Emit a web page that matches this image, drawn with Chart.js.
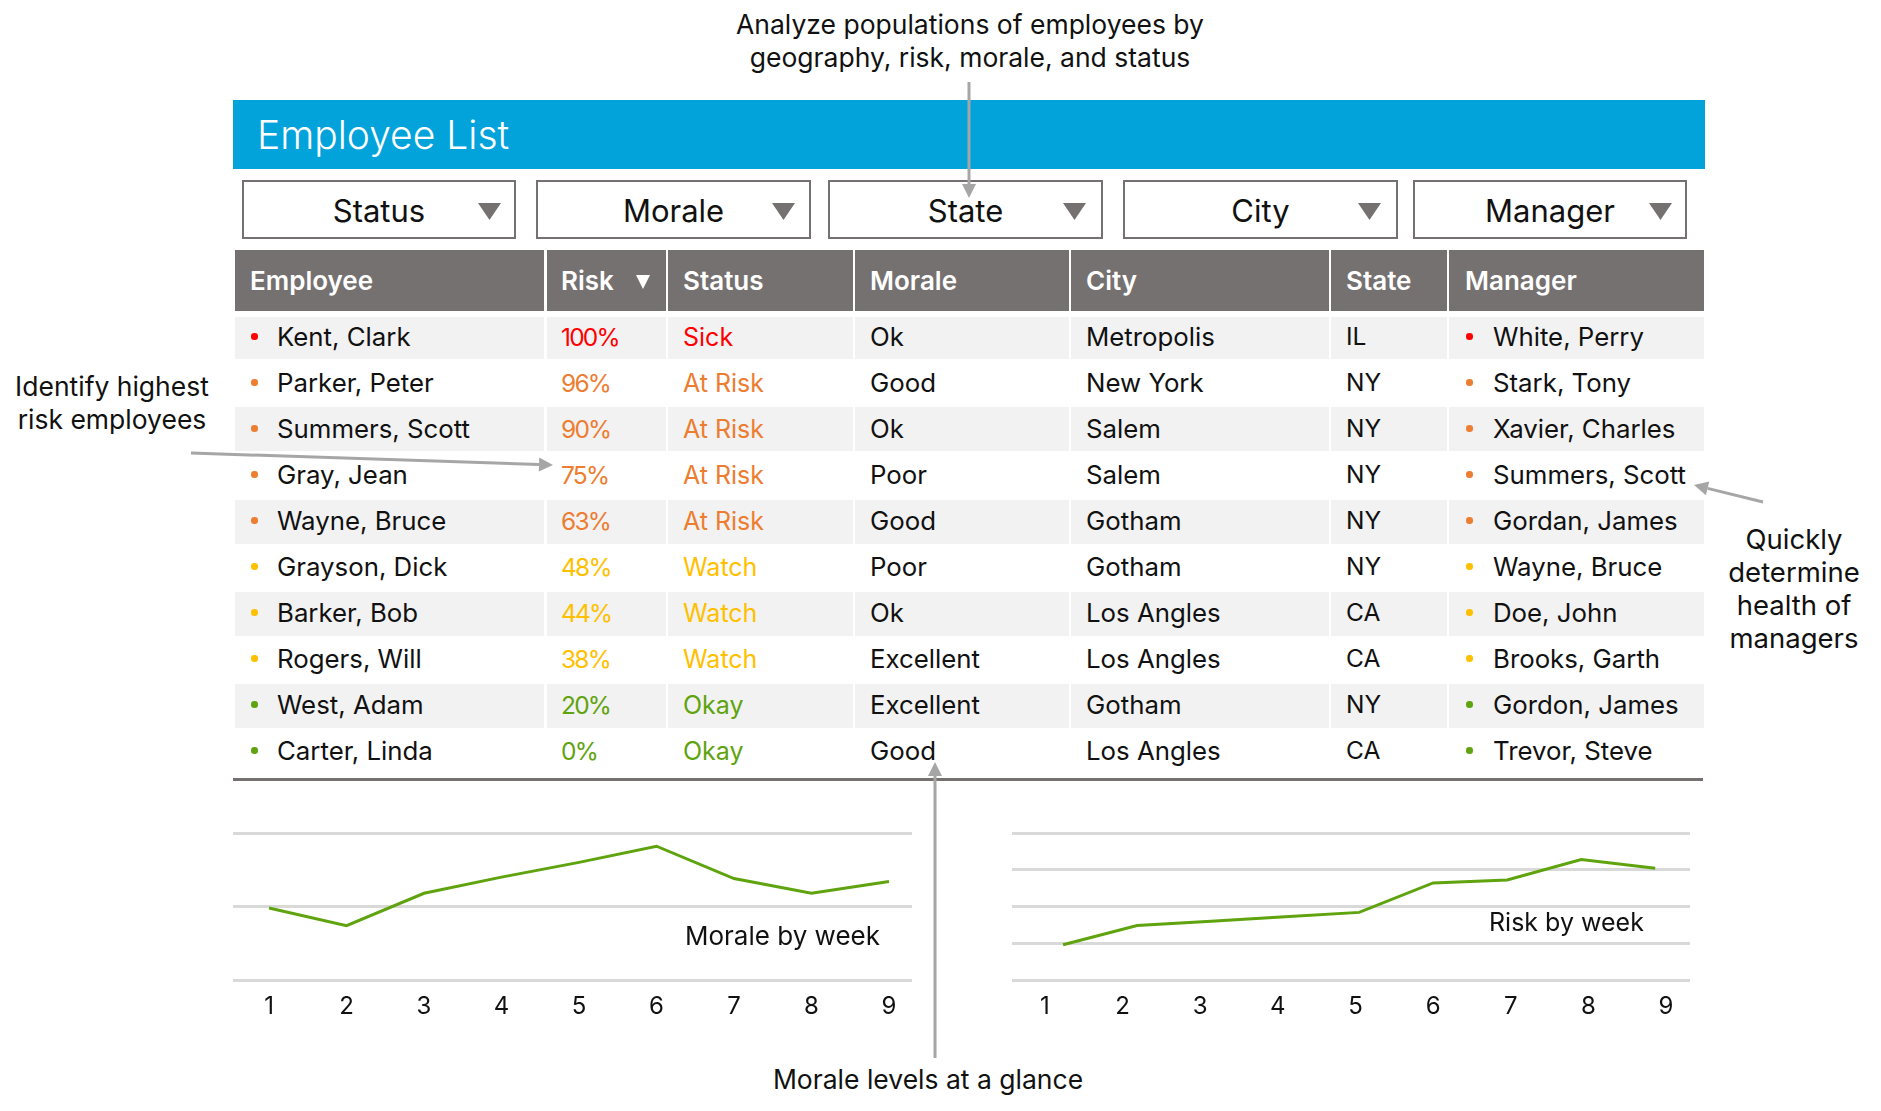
<!DOCTYPE html>
<html>
<head>
<meta charset="utf-8">
<script src="https://cdn.jsdelivr.net/npm/chart.js"></script>
<style>
  body { margin: 0; background: #fff; font-family: Inter, sans-serif; color: #111; overflow: hidden; }
  #page { position: relative; width: 1881px; height: 1111px; overflow: hidden; }
  .box { position: absolute; box-sizing: border-box; }
  .txt { position: absolute; white-space: nowrap; transform: translateY(-50%); font-size: 25.8px; }
  .ctr { transform: translate(-50%, -50%); font-size: 26.5px; }
  canvas { position: absolute; }
  svg { position: absolute; left: 0; top: 0; }
</style>
</head>
<body>
<div id="page">
  <canvas id="moraleChart" width="679" height="210" style="left:233px;top:823px"></canvas>
  <canvas id="riskChart" width="678" height="210" style="left:1012px;top:823px"></canvas>
</div>
<script>
const filters = ["Status", "Morale", "State", "City", "Manager"];
const columns = ["Employee", "Risk", "Status", "Morale", "City", "State", "Manager"];
const employees = ["Kent, Clark", "Parker, Peter", "Summers, Scott", "Gray, Jean", "Wayne, Bruce", "Grayson, Dick", "Barker, Bob", "Rogers, Will", "West, Adam", "Carter, Linda"];
const risks = ["100%", "96%", "90%", "75%", "63%", "48%", "44%", "38%", "20%", "0%"];
const statuses = ["Sick", "At Risk", "At Risk", "At Risk", "At Risk", "Watch", "Watch", "Watch", "Okay", "Okay"];
const morales = ["Ok", "Good", "Ok", "Poor", "Good", "Poor", "Ok", "Excellent", "Excellent", "Good"];
const cities = ["Metropolis", "New York", "Salem", "Salem", "Gotham", "Gotham", "Los Angles", "Los Angles", "Gotham", "Los Angles"];
const states = ["IL", "NY", "NY", "NY", "NY", "NY", "CA", "CA", "NY", "CA"];
const managers = ["White, Perry", "Stark, Tony", "Xavier, Charles", "Summers, Scott", "Gordan, James", "Wayne, Bruce", "Doe, John", "Brooks, Garth", "Gordon, James", "Trevor, Steve"];

const weeks = [1, 2, 3, 4, 5, 6, 7, 8, 9];
const moraleByWeek = [49, 37, 59, 70, 80, 91, 69, 59, 67];
const riskByWeek = [24, 37, 40, 43, 46, 66, 68, 82, 76];

const statusColors = { "Sick": "#ff0000", "At Risk": "#ed7d31", "Watch": "#ffc000", "Okay": "#5fa30e" };
const GREY = "#767171";
const page = document.getElementById("page");

function box(x, y, w, h, style) {
  const el = document.createElement("div");
  el.className = "box";
  el.style.cssText = `left:${x}px;top:${y}px;width:${w}px;height:${h}px;${style}`;
  page.appendChild(el);
  return el;
}

function text(x, y, str, style, centered) {
  const el = document.createElement("div");
  el.className = centered ? "txt ctr" : "txt";
  el.style.cssText = `left:${x}px;top:${y}px;${style || ""}`;
  el.textContent = str;
  page.appendChild(el);
}

function triangle(x, y, w, h, color) {
  box(x, y, w, h, `background:${color};clip-path:polygon(0 0,100% 0,50% 100%)`);
}

// title band
box(233, 100, 1472, 69, "background:#02a3db");
text(257, 134, "Employee List", "color:#fff;font-size:39px;font-weight:300");

// filter boxes
const filterBoxes = [[242, 274], [536, 275], [828, 275], [1123, 275], [1413, 274]];
const arrowNudge = [0, -1, -2, -2, 0];
filters.forEach((name, i) => {
  const [x, w] = filterBoxes[i];
  box(x, 180, w, 59, `border:2px solid ${GREY}`);
  text(x + w / 2, 210, name, "font-size:31px", true);
  triangle(x + w - 38 + arrowNudge[i], 203, 23, 17, GREY);
});

// table
const colEdges = [[235, 544], [547, 666], [668, 853], [855, 1069], [1071, 1329], [1331, 1447], [1449, 1704]];
const textX = [277, 561, 683, 870, 1086, 1346, 1493];
const headX = [250, 561, 683, 870, 1086, 1346, 1465];
colEdges.forEach(([a, b], c) => {
  box(a, 250, b - a, 61, `background:${GREY}`);
  text(headX[c], 280, columns[c], "color:#fff;font-weight:600;font-size:26px");
  [317, 407, 500, 592, 684].forEach((top, i) => {
    box(a, top, b - a, i == 0 ? 42 : 44, "background:#f2f2f2");
  });
});
triangle(636, 275, 14, 14, "#fff");

const rowColumns = [employees, risks, statuses, morales, cities, states, managers];
const cellStyles = ["", "font-size:24.5px;letter-spacing:-1.8px", "font-size:25px", "", "", "font-size:24.5px", ""];
employees.forEach((_, r) => {
  const y = 335.5 + r * 46;
  const color = statusColors[statuses[r]];
  rowColumns.forEach((col, c) => {
    const colored = c == 1 || c == 2;
    text(textX[c], colored ? y + 1 : y, col[r], cellStyles[c] + (colored ? `;color:${color}` : ""));
  });
  [254, 1469].forEach(cx => box(cx - 3, y - 2.5, 6.5, 6.5, `background:${color};border-radius:50%`));
});

// bottom rule
box(233, 777.5, 1470, 3, `background:${GREY}`);

// callouts
text(970, 24, "Analyze populations of employees by", "", true);
text(970, 57, "geography, risk, morale, and status", "", true);
text(112, 386, "Identify highest", "", true);
text(112, 419, "risk employees", "", true);
["Quickly", "determine", "health of", "managers"].forEach((s, i) => text(1794, 538.5 + i * 33, s, "font-size:27.5px", true));
text(928, 1078.5, "Morale levels at a glance", "", true);
text(685, 935, "Morale by week", "font-size:26px");
text(1489, 922, "Risk by week", "font-size:25px");

const arrows = [[969, 82, 969, 198], [191, 453, 553, 465], [1763, 502, 1694, 485], [935, 1058, 935, 762]];
const svg = arrows.map(([x1, y1, x2, y2]) => {
  const len = Math.hypot(x2 - x1, y2 - y1), ux = (x2 - x1) / len, uy = (y2 - y1) / len;
  const bx = x2 - ux * 14, by = y2 - uy * 14;
  return `<line x1="${x1}" y1="${y1}" x2="${bx}" y2="${by}" stroke="#a6a6a6" stroke-width="3"/>` +
    `<polygon fill="#a6a6a6" points="${x2},${y2} ${bx - uy * 7},${by + ux * 7} ${bx + uy * 7},${by - ux * 7}"/>`;
}).join("");
page.insertAdjacentHTML("beforeend", `<svg width="1881" height="1111">${svg}</svg>`);

// the two small line charts
function weekChart(id, values, step, labelRange, lineRange) {
  const weekTicks = axis => { axis.ticks = weeks.map(w => ({ value: w })); };
  new Chart(document.getElementById(id), {
    type: "line",
    data: {
      datasets: [{
        data: weeks.map((w, i) => ({ x: w, y: values[i] })),
        xAxisID: "xLine",
        borderColor: "#5fa30e",
        borderWidth: 3,
        pointRadius: 0,
        tension: 0,
        clip: false
      }]
    },
    options: {
      responsive: false,
      animation: false,
      devicePixelRatio: 1,
      layout: { padding: { top: 10 } },
      plugins: { legend: { display: false }, tooltip: { enabled: false } },
      scales: {
        x: {
          type: "linear",
          min: labelRange[0],
          max: labelRange[1],
          afterBuildTicks: weekTicks,
          afterFit: axis => { axis.height = 53; },
          grid: { display: false, drawTicks: false },
          border: { display: false },
          ticks: { color: "#111", font: { family: "Inter", size: 24 }, padding: 12, autoSkip: false, maxRotation: 0 }
        },
        xLine: { type: "linear", display: false, min: lineRange[0], max: lineRange[1] },
        y: {
          min: 0,
          max: 100,
          ticks: { stepSize: step, display: false },
          grid: { color: "#d9d9d9", lineWidth: 3, drawTicks: false },
          border: { display: false }
        }
      }
    }
  });
}

weekChart("moraleChart", moraleByWeek, 50, [0.535, 9.297], [0.535, 9.297]);
weekChart("riskChart", riskByWeek, 25, [0.575, 9.31], [0.31, 9.47]);
</script>
</body>
</html>
